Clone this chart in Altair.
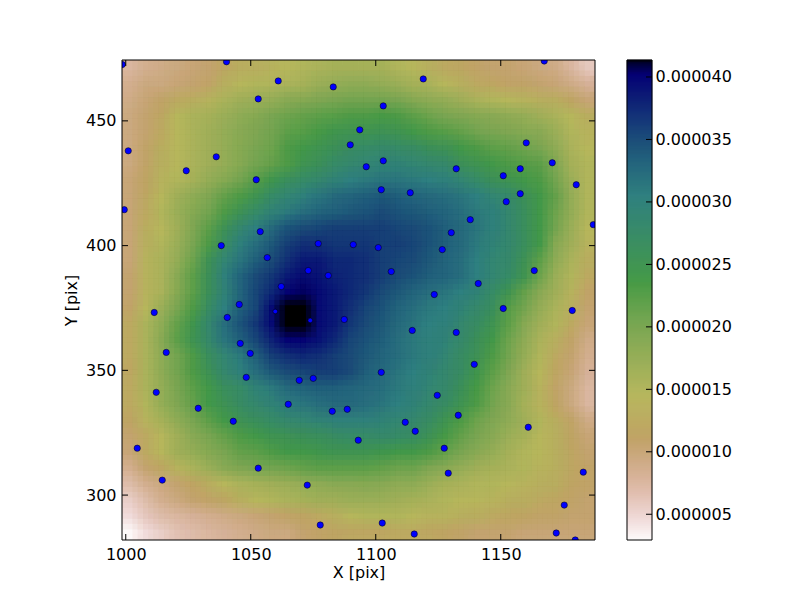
import altair as alt
import numpy as np
import pandas as pd

x_domain = [998.5, 1187.7]
y_domain = [282.0, 474.4]
v_min, v_max = 2.94e-6, 41.36e-6

# Density, in units of 1e-6, top row first, left column first
grid = [
[7.5,8.5,9,9.5,10,10.5,12,13,13.5,14,14.5,15,15.5,16,16,16,16,15,14.5,13.5,12.5,12,11,10.5,10.5,10,9.5,9,7.5,6],
[8.5,9.5,9.5,10,10.5,11,13.5,14.5,15,15,15.5,16,17,17.5,18,18,17.5,17,16,15.5,14.5,13.5,12.5,12,11,11,10.5,10,9,8],
[9,10,11,12.5,13,14,15.5,16.5,17,17.5,18.5,19,19.5,20,20.5,20.5,20.5,20,19,18,17.5,16.5,15.5,15,14.5,14,13.5,13,11.5,10],
[9.5,10.5,12,14.5,15.5,16,17,18,19,20,21,21.5,22,22.5,23,23,23.5,23,22,21,20,19.5,19,18.5,18,17.5,16.5,15.5,14.5,13],
[9.5,10.5,12.5,14.5,15.5,16.5,17.5,18.5,19.5,20.5,22,22.5,23.5,24.5,25,25,25.5,25,24,23,22.5,21.5,20.5,20,19.5,19,18.5,17,15,14],
[9.5,11,13,14.5,15.5,16.5,17.5,19,20,21,23,24,25,26,27,27.5,28,27.5,27,26,25.5,24,23,22,21.5,21,20,18,15.5,14.5],
[9.5,11,13.5,14.5,15.5,16.5,17.5,19,20.5,21.5,23,25,26,27.5,28.5,29,29.5,29.5,29,28.5,28,26,25,24,23,22.5,22,19.5,16,15],
[10,11.5,14,15,16,17.5,19,20.5,22.5,24.5,26.5,27.5,28.5,29.5,30.5,31,31.5,31.5,31,30.5,30,29,27.5,26,25,24,23,20.5,17,15],
[10,12,14.5,16.5,18,19.5,21.5,23,25,27.5,29,30,31.5,32.5,33,33.5,34,33.5,33,32.5,32,31.5,30.5,29,28,26,24,21.5,17.5,15],
[10,12.5,15,17,19,20.5,23,25.5,27.5,29.5,31,32,33,33.5,34,34.5,35,34.5,34,33.5,33,32,31,30,28.5,26.5,24,21,17.5,15],
[10,13,14.5,16.5,19.5,22,25.5,28.5,30.5,32.5,34.5,35,35.5,36,36,36,36,35.5,35,34.5,33.5,32.5,31.5,30,28.5,26.5,24,20.5,17,14.5],
[10,13.5,15,17,20,23,27,30,32,34,36,37,37,36.5,36.5,36.5,36,36,35.5,34.5,33.5,32.5,31,29.5,28.5,26.5,24,19,16.5,14],
[10,14,15.5,17.5,21,25.5,29,31.5,33.5,35,37,38.5,38.5,37.5,37.5,37,36,35.5,35,34,33,32,30.5,29,28,25.5,22,18,15.5,13],
[10.5,14,15.5,18.5,22,26,30,33,35,36.5,38.5,39.5,39,38,37.5,37,36,35,34.5,33.5,33,32,30.5,29,27.5,25,21,17,15,12.5],
[10.5,14,15.5,19,22,26,29.5,33,35.5,37.5,40,40.5,39.5,38.5,37.5,36.5,35,34,33,32,31.5,30.5,29.5,27.5,25,21.5,18.5,16.5,14,11],
[11,14.5,17,20,23,27,30.5,33.5,35.5,39.5,43,42,39.5,38.5,37,35.5,34.5,33,32,31,30.5,29.5,28,26.5,22.5,20.5,17.5,15.5,13.5,10.5],
[12.5,15.5,18,21.5,24.5,28.5,32,34.5,36.5,39.5,43,42,39.5,38.5,36.5,35,34,32.5,31.5,30.5,30,28.5,27,25,22,19,16.5,15,12.5,10],
[12.5,15.5,18.5,22,25,28,31.5,33.5,35.5,38,40,40,39,37.5,35.5,34.5,33.5,32,31,30,29.5,28,26,24,21,18,15.5,13.5,11,9],
[12.5,15.5,18,20.5,23,26.5,29,31,33.5,36,37,37.5,37,36,35,34,33,32,31,30,29,27,25.5,23,20.5,17.5,15,12.5,10.5,8.5],
[12,15.5,18,20.5,23,25.5,28.5,30,32,34,35,35.5,36,36,35,33.5,32.5,31.5,30.5,29.5,28.5,27,24.5,22,19.5,16.5,14.5,12,10,8],
[12.5,15.5,17.5,20,22,24,26.5,27.5,29.5,31,32.5,33,33.5,33.5,33,32.5,32,31,30,29,28,26,23.5,21,18.5,16.5,14,11,9.5,7.5],
[12.5,15,17.5,19.5,21.5,24,25.5,27,28.5,29.5,31,31.5,32,32.5,32.5,32,31.5,30.5,29.5,28.5,27,25,23,20.5,18.5,16,14,11.5,9.5,7.5],
[11.5,14,16,18,20,22,24,25.5,26.5,27.5,28.5,29,29.5,30,30,30,29.5,29,28.5,27,25,23,21,19.5,18,16.5,15,13,11,9],
[10.5,12.5,14.5,16.5,18.5,20,21.5,23,24,25,25.5,26,26.5,27,27.5,27.5,28,27.5,27,25.5,23.5,21.5,20,18.5,17,16,14.5,13.5,11.5,10],
[10,12.5,14.5,16.5,17.5,19,20,21.5,22,23,24,24,24.5,25,25,25,24.5,24,24,23,21.5,20,18.5,17.5,16,15,14.5,13.5,12,10.5],
[8.5,10.5,12,14,15.5,17,18.5,19.5,20,20.5,21,21.5,22,22,22,22,21.5,21,21,19.5,18.5,17.5,16.5,16,15.5,15,14,13.5,12,11],
[7,8.5,9.5,10.5,11.5,13,14.5,15.5,16,16.5,17,17.5,18,18.5,18.5,19,18.5,18,18,17,16,15.5,15,15,14.5,14,13.5,13,11.5,11],
[5.5,7,8.5,9.5,10.5,11,12,13.5,14.5,15,15.5,16,16.5,16.5,17,17,17,16.5,16,15.5,15,14.5,14.5,14,13.5,13,12.5,12,11,10.5],
[4.5,6,7,7.5,8,8.5,9,9.5,10,10.5,11,11.5,12.5,13.5,14.5,15,15,15,14.5,14,14,13.5,13,12.5,12,11.5,11,11,10.5,10.5],
[3,4.5,5.5,6.5,7,7.5,8,8.5,9,9.5,9.5,10.5,11,11.5,12,12,12,12.5,12.5,12,11.5,11,10.5,10.5,10.5,10,10,10,10,10],
]

point_x = [998.6,1040.3,1061,1083,1053,1001,1036.2,1024.2,1052.2,1089.8,1093.6,999.4,1053.8,1038.2,1077,1091,1056.6,1073,1081,1062.2,
           1167.4,1119,1103,1160.2,1170.6,1157.8,1132.2,1151,1103,1096.2,1180.2,1102.2,1113.8,1157.8,1152.2,1187,1137.8,1130.2,1101,1126.6,1106.2,1163.4,1141,1123.4,
           1045.4,1059.8,1011.4,1040.6,1073.8,1087.4,1045.8,1049.8,1016.2,1048.2,1069.4,1075,1012.2,1065,1029,1082.6,1088.6,1043,1093,1004.6,1053,1014.6,1072.6,1077.8,
           1151,1178.6,1114.6,1132.2,1139.4,1102.2,1124.6,1133,1111.8,1115.8,1127.4,1129,1161,1183,1175.4,1172.2,1179.8,1102.6,1115.4]
point_y = [472.6,473.7,466,463.6,458.8,438,435.6,430,426.4,440.4,446.4,414.4,405.6,400,400.8,400.4,395.2,390,388,383.6,
           474,466.8,456,441.2,433.2,430.8,430.8,428,434,431.6,424.4,422.4,421.2,420.8,417.6,408.4,410.4,405.2,399.2,398.4,389.6,390,384.8,380.4,
           376.4,373.6,373.2,371.2,370,370.4,360.8,356.8,357.2,347.2,346,346.8,341.2,336.4,334.8,333.6,334.4,329.6,322,318.8,310.8,306,304,288,
           374.8,374,366,365.2,352.4,349.2,340,332,329.2,325.6,318.8,308.8,327.2,309.2,296,284.8,282,288.8,284.4]
small_points = [45, 48]

x_ticks = [1000, 1050, 1100, 1150]
y_ticks = [300, 350, 400, 450]
cbar_ticks = [5e-6, 10e-6, 15e-6, 20e-6, 25e-6, 30e-6, 35e-6, 40e-6]

# gist_earth colour map breakpoints
red_t = [0.0, 0.2824, 0.4588, 0.5490, 0.698, 0.7882, 1.0]
red_v = [0.0, 0.1882, 0.2714, 0.4719, 0.7176, 0.7553, 0.9922]
green_t = [0.0, 0.0275, 0.1098, 0.1647, 0.2078, 0.2824, 0.5216, 0.698, 0.7882, 0.7922, 0.8, 0.8078, 0.8157, 0.8667, 0.8745, 0.8824, 0.8902, 0.898, 0.9412, 0.9569, 0.9647, 0.9961, 1.0]
green_v = [0.0, 0.0, 0.1893, 0.3035, 0.3841, 0.502, 0.6397, 0.7171, 0.6392, 0.6413, 0.6447, 0.6481, 0.6549, 0.6991, 0.7103, 0.7216, 0.7323, 0.743, 0.8275, 0.8635, 0.8816, 0.9733, 0.9843]
blue_t = [0.0, 0.0039, 0.0078, 0.0275, 0.0314, 0.2824, 0.4667, 0.5451, 0.7843, 0.8941, 1.0]
blue_v = [0.0, 0.1684, 0.2212, 0.4329, 0.4549, 0.5004, 0.2748, 0.3205, 0.3961, 0.6651, 0.9843]

stops = sorted(set(red_t + green_t + blue_t), reverse=True)
stop_colors = []
for t in stops:
    r = np.interp(t, red_t, red_v)
    g = np.interp(t, green_t, green_v)
    b = np.interp(t, blue_t, blue_v)
    stop_colors.append("#%02x%02x%02x" % (round(r * 255), round(g * 255), round(b * 255)))
stop_values = [v_min + (1 - t) * (v_max - v_min) for t in stops]
color_scale = alt.Scale(domain=stop_values, range=stop_colors, clamp=True, interpolate="rgb")

n_rows, n_cols = len(grid), len(grid[0])
x_edges = np.linspace(x_domain[0], x_domain[1], n_cols + 1)
y_edges = np.linspace(y_domain[1], y_domain[0], n_rows + 1)
cells = pd.DataFrame([
    {"x": x_edges[c], "x2": x_edges[c + 1], "y": y_edges[r + 1], "y2": y_edges[r], "v": grid[r][c] * 1e-6}
    for r in range(n_rows) for c in range(n_cols)
])
points = pd.DataFrame({"x": point_x, "y": point_y})
points["s"] = [22 if i in small_points else 40 for i in range(len(point_x))]

x_scale = alt.Scale(domain=x_domain, nice=False, zero=False)
y_scale = alt.Scale(domain=y_domain, nice=False, zero=False)
W, H = 473, 480
FONT = "DejaVu Sans"

x_axis = alt.Axis(
    title="X [pix]", values=x_ticks, format="d", grid=False, domain=False, tickSize=0,
    labelPadding=6, titlePadding=2, labelFont=FONT, labelFontSize=16, titleFont=FONT,
    titleFontSize=16, titleFontWeight="normal", labelColor="black", titleColor="black")
y_axis = alt.Axis(
    title="Y [pix]", values=y_ticks, format="d", grid=False, domain=False, tickSize=0,
    labelPadding=6, titlePadding=6, labelFont=FONT, labelFontSize=16, titleFont=FONT,
    titleFontSize=16, titleFontWeight="normal", labelColor="black", titleColor="black")

heat = alt.Chart(cells).mark_rect(strokeWidth=0.6, clip=True).encode(
    x=alt.X("x:Q", scale=x_scale, axis=x_axis),
    x2="x2:Q",
    y=alt.Y("y:Q", scale=y_scale, axis=y_axis),
    y2="y2:Q",
    color=alt.Color("v:Q", scale=color_scale, legend=None),
    stroke=alt.Stroke("v:Q", scale=color_scale, legend=None),
)

# The same cells drawn again, slid by thirds of a cell and see-through, soften the block edges
dx = (x_domain[1] - x_domain[0]) / n_cols
dy = (y_domain[1] - y_domain[0]) / n_rows
soft_layers = []
k = 1
for i in (-1, 0, 1):
    for j in (-1, 0, 1):
        if i == 0 and j == 0:
            continue
        k += 1
        sx, sy = i * dx / 3, j * dy / 3
        soft_layers.append(
            alt.Chart(cells).transform_calculate(
                xs=f"datum.x + {sx}", xe=f"datum.x2 + {sx}", ys=f"datum.y + {sy}", ye=f"datum.y2 + {sy}"
            ).mark_rect(opacity=1 / k, clip=True).encode(
                x=alt.X("xs:Q", scale=x_scale, axis=x_axis),
                x2="xe:Q",
                y=alt.Y("ys:Q", scale=y_scale, axis=y_axis),
                y2="ye:Q",
                color=alt.Color("v:Q", scale=color_scale, legend=None),
            )
        )

dots = alt.Chart(points).mark_circle(color="#0000ff", opacity=1, stroke="black",
                                     strokeWidth=0.5, clip=True).encode(
    x=alt.X("x:Q", scale=x_scale, axis=x_axis), y=alt.Y("y:Q", scale=y_scale, axis=y_axis),
    size=alt.Size("s:Q", scale=None, legend=None))

xt = pd.DataFrame({"x": x_ticks})
yt = pd.DataFrame({"y": y_ticks})
tick_style = dict(color="black", strokeWidth=1)
xt_bottom = alt.Chart(xt).mark_rule(**tick_style).encode(
    x=alt.X("x:Q", scale=x_scale, axis=x_axis), y=alt.value(H), y2=alt.value(H - 6))
xt_top = alt.Chart(xt).mark_rule(**tick_style).encode(
    x=alt.X("x:Q", scale=x_scale, axis=x_axis), y=alt.value(0), y2=alt.value(6))
yt_left = alt.Chart(yt).mark_rule(**tick_style).encode(
    y=alt.Y("y:Q", scale=y_scale, axis=y_axis), x=alt.value(0), x2=alt.value(6))
yt_right = alt.Chart(yt).mark_rule(**tick_style).encode(
    y=alt.Y("y:Q", scale=y_scale, axis=y_axis), x=alt.value(W), x2=alt.value(W - 6))

def frame(w, h):
    style = dict(color="black", strokeWidth=1)
    d = alt.Data(values=[{"a": 0}])
    return [
        alt.Chart(d).mark_rule(**style).encode(x=alt.value(0), x2=alt.value(w), y=alt.value(0)),
        alt.Chart(d).mark_rule(**style).encode(x=alt.value(0), x2=alt.value(w), y=alt.value(h)),
        alt.Chart(d).mark_rule(**style).encode(y=alt.value(0), y2=alt.value(h), x=alt.value(0)),
        alt.Chart(d).mark_rule(**style).encode(y=alt.value(0), y2=alt.value(h), x=alt.value(w)),
    ]

main = alt.layer(heat, *soft_layers, dots, xt_bottom, xt_top, yt_left, yt_right, *frame(W, H)).properties(width=W, height=H)

# Colour bar
levels = np.linspace(v_min, v_max, 241)
cbar = pd.DataFrame({"a": levels[:-1], "b": levels[1:], "v": (levels[:-1] + levels[1:]) / 2})
cb_scale = alt.Scale(domain=[v_min, v_max], nice=False, zero=False)
CW = 25
cb_axis = alt.Axis(
    orient="right", title=None, values=cbar_ticks, format=".6f", grid=False, domain=False,
    tickSize=0, labelPadding=3, labelFont=FONT, labelFontSize=16, labelColor="black")
cb_rect = alt.Chart(cbar).mark_rect(strokeWidth=0.5).encode(
    y=alt.Y("a:Q", scale=cb_scale, axis=cb_axis),
    y2="b:Q",
    color=alt.Color("v:Q", scale=color_scale, legend=None),
    stroke=alt.Stroke("v:Q", scale=color_scale, legend=None),
)
cb_ticks = alt.Chart(pd.DataFrame({"y": cbar_ticks})).mark_rule(**tick_style).encode(
    y=alt.Y("y:Q", scale=cb_scale, axis=cb_axis), x=alt.value(CW - 6), x2=alt.value(CW))
bar = alt.layer(cb_rect, cb_ticks, *frame(CW, H)).properties(width=CW, height=H)

chart = alt.hconcat(main, bar, spacing=30).configure_view(stroke=None).properties(
    padding={"left": 55, "top": 51, "right": 5, "bottom": 5}, background="white")

chart.save("out.html", embed_options={"renderer": "svg", "actions": False})
